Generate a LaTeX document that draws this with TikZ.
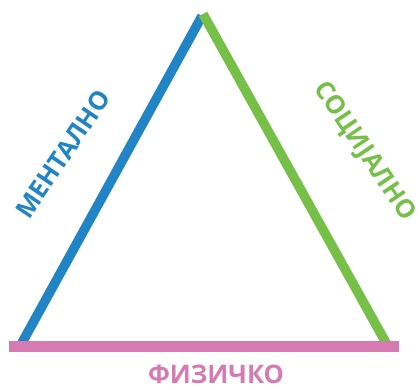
\documentclass[tikz,border=0pt]{standalone}
\usepackage{fontspec}
\setmainfont{Open Sans}
\usetikzlibrary{positioning}
\definecolor{MentBlue}{RGB}{33,133,197}
\definecolor{SocGreen}{RGB}{118,192,72}
\definecolor{FizPink}{RGB}{214,122,178}

\begin{document}
\begin{tikzpicture}[x=1pt, y=-1pt,
    side/.style={line width=9.5pt},
    label/.style={font=\fontsize{25.5}{30}\selectfont\bfseries, inner sep=0pt}]
  \useasboundingbox (0,0) rectangle (420,389);
  \coordinate (L) at (18,350);
  \coordinate (T) at (202,16);
  \coordinate (T2) at (203,14);
  \coordinate (R) at (390,350);
  \coordinate (PL) at (9,346.5);
  \coordinate (PR) at (399,346.5);
  \draw[side, MentBlue] (L) -- (T);
  \draw[side, SocGreen] (T2) -- (R);
  \draw[side, FizPink, line width=11pt] (PL) -- (PR);
  \node[label, MentBlue, rotate=56] (ment) at (63,154) {МЕНТАЛНО};
  \node[label, SocGreen, rotate=-56] (soc) at (364,152) {СОЦИЈАЛНО};
  \node[label, FizPink] (fiz) at (216,374) {ФИЗИЧКО};
\end{tikzpicture}
\end{document}
